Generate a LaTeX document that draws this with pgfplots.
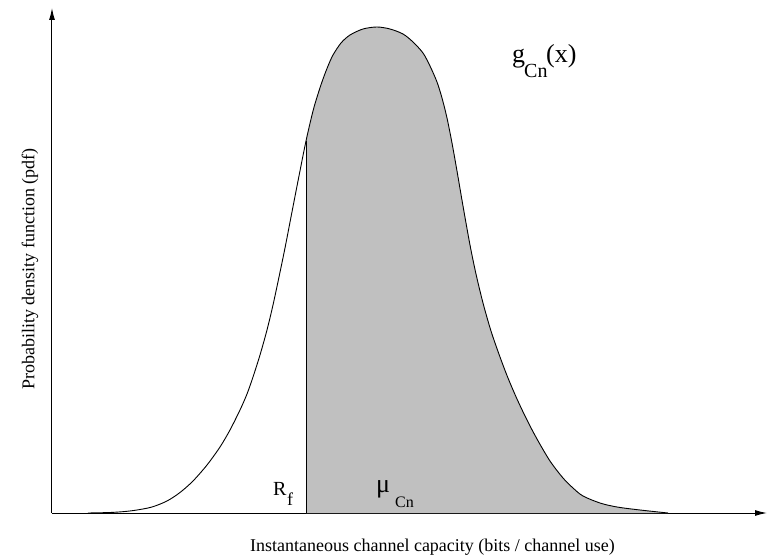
\documentclass[border=0pt]{standalone}
\usepackage{pgfplots}
\pgfplotsset{compat=1.18}
\usepackage{fontspec}
\setmainfont{Liberation Serif}
\usetikzlibrary{arrows.meta}
\definecolor{shade}{RGB}{192,192,192}
\begin{document}
\begin{tikzpicture}
\begin{axis}[
  name=ax,
  scale only axis,
  width=715pt, height=505pt,
  xmin=52, xmax=767, ymin=0, ymax=505,
  axis lines=left,
  axis line style={line width=1pt, black},
  x axis line style={-{Latex[length=12pt,width=6pt]}},
  y axis line style={-{Latex[length=12pt,width=6pt]}},
  xtick=\empty, ytick=\empty,
  clip=false,
]
% shaded region (x >= R_f)
\addplot[fill=shade, draw=none, smooth] coordinates {
  (306,372) (313,402) (318,419) (323,434) (328,447) (333,458) (341,470)
  (350,478) (363,484) (377,486)
  (390,484) (403,479) (413,471) (423,460) (430,447) (437,431) (442,415)
  (447,395) (452,370) (457,342) (463,307) (470,268) (476,239) (483,210)
  (491,182) (500,156) (508,135) (517,114) (527,93) (537,74) (550,52)
  (563,35) (573,25) (583,17) (600,10) (617,6) (640,3) (668,0)
} \closedcycle;
% full density curve
\addplot[black, line width=0.9pt, smooth] coordinates {
  (88,0) (110,0.5) (125,1.5) (137,3) (152,6) (167,12) (180,20.5) (193,32)
  (207,48) (220,66) (230,83) (240,103) (247,119) (253,136) (260,158)
  (267,183) (273,208) (279,236) (285,265) (291,296) (298,332)
  (306,372) (313,402) (318,419) (323,434) (328,447) (333,458) (341,470)
  (350,478) (363,484) (377,486)
  (390,484) (403,479) (413,471) (423,460) (430,447) (437,431) (442,415)
  (447,395) (452,370) (457,342) (463,307) (470,268) (476,239) (483,210)
  (491,182) (500,156) (508,135) (517,114) (527,93) (537,74) (550,52)
  (563,35) (573,25) (583,17) (600,10) (617,6) (640,3) (668,0)
};
% R_f line
\addplot[black, line width=0.8pt] coordinates {(306,0) (306,372)};
% labels
\node[anchor=base west, inner sep=0] at (axis cs:273,18) {\fontsize{20}{24}\selectfont R};
\node[anchor=base west, inner sep=0] at (axis cs:287,8) {\fontsize{18}{22}\selectfont f};
\node[anchor=base west, inner sep=0] at (axis cs:376,20) {\fontsize{26}{30}\selectfont μ};
\node[anchor=base west, inner sep=0] at (axis cs:395,6) {\fontsize{16}{19}\selectfont Cn};
\node[anchor=base west, inner sep=0] at (axis cs:512,450) {\fontsize{26}{30}\selectfont g};
\node[anchor=base west, inner sep=0] at (axis cs:524,435) {\fontsize{20}{24}\selectfont Cn};
\node[anchor=base west, inner sep=0] at (axis cs:546,450) {\fontsize{26}{30}\selectfont (x)};
\node[anchor=base, inner sep=0] at (axis cs:432.5,-38) {\fontsize{18}{22}\selectfont Instantaneous channel capacity (bits / channel use)};
\node[anchor=center, rotate=90, inner sep=0] at (axis cs:30,244) {\fontsize{18}{22}\selectfont Probability density function (pdf)};
\end{axis}
\pgfresetboundingbox
\path[use as bounding box] (ax.south west) ++(-52pt,-47pt) rectangle ++(769pt,560pt);
\end{tikzpicture}
\end{document}
